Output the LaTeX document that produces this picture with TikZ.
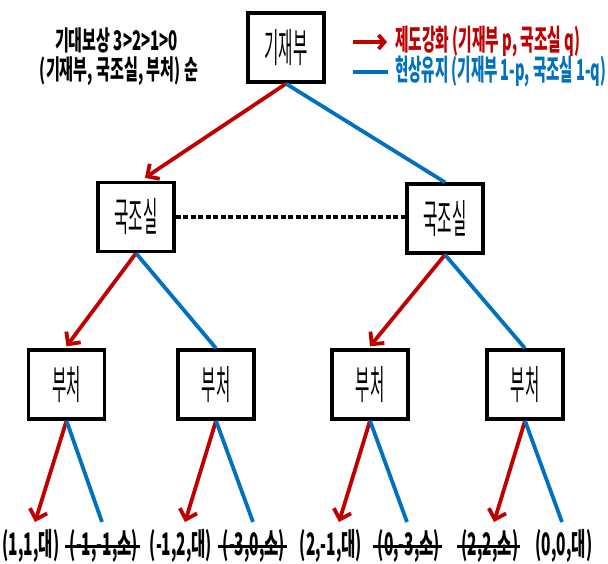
\documentclass[tikz,border=0pt]{standalone}
\usepackage{fontspec}
\usepackage{graphicx}
\usetikzlibrary{arrows.meta,calc}
\newfontfamily\kr{Noto Sans CJK KR}
\definecolor{cred}{RGB}{192,0,0}
\definecolor{cblue}{RGB}{0,112,192}
\tikzset{
 bx/.style={draw=black, line width=3.4pt, minimum width=76pt, minimum height=69pt, inner sep=0pt, font=\kr\fontsize{40}{40}\selectfont},
 redarr/.style={draw=cred, line width=3.8pt, -{Straight Barb[length=9pt,width=18pt]}},
 blueln/.style={draw=cblue, line width=3.8pt},
 legarr/.style={draw=cred, line width=3.8pt, -{Straight Barb[length=6pt,width=14pt]}},
 leaf/.style={inner sep=0pt, font=\kr\bfseries\fontsize{31}{31}\selectfont},
 strike/.style={leaf, append after command={([xshift=-5pt]\tikzlastnode.west) edge[line width=3pt] ([xshift=2pt]\tikzlastnode.east)}},
 ttl/.style={inner sep=0pt, font=\kr\bfseries\fontsize{29}{29}\selectfont},
 hdr/.style={inner sep=0pt, anchor=base, font=\kr\bfseries\fontsize{27}{27}\selectfont},
}
\newcommand\nx[1]{\scalebox{0.39}[1]{#1}}
\newcommand\lx[1]{\scalebox{0.5}[1]{#1}}
\begin{document}
\begin{tikzpicture}[x=1pt,y=-1pt]
\useasboundingbox (0,0) rectangle (608,563);
% title texts
\node[hdr] (t1) at (116.5,50) {\resizebox{123pt}{\height}{기대보상 3>2>1>0}};
\node[hdr] (t2) at (119,79) {\resizebox{158pt}{\height}{(기재부, 국조실, 부처) 순}};
% legend
\coordinate (ra) at (353,42); \coordinate (rb) at (387,42);
\coordinate (ba) at (353,72); \coordinate (bb) at (388,72);
\draw[legarr] (ra) -- (rb);
\draw[blueln] (ba) -- (bb);
\node[ttl, text=cred, anchor=west] (lg1) at (395,42) {\resizebox{185pt}{\height}{제도강화 (기재부 p, 국조실 q)}};
\node[ttl, text=cblue, anchor=west] (lg2) at (395,72) {\resizebox{211pt}{\height}{현상유지 (기재부 1-p, 국조실 1-q)}};
% boxes
\node[bx] (gjb) at (286,47.5) {\nx{기재부}};
\node[bx] (gs1) at (136,217) {\nx{국조실}};
\node[bx] (gs2) at (445,218.5) {\nx{국조실}};
\node[bx] (b1) at (66.5,384.5) {\nx{부처}};
\node[bx] (b2) at (216,384.5) {\nx{부처}};
\node[bx] (b3) at (370,384.5) {\nx{부처}};
\node[bx] (b4) at (525,384.5) {\nx{부처}};
% dashed info set
\draw[line width=3.6pt, dash pattern=on 5pt off 2.5pt] (gs1.east) -- (gs1.east -| gs2.west);
% level 1
\draw[redarr] (gjb.south) -- ([xshift=9pt,yshift=3pt]gs1.north);
\draw[blueln] (gjb.south) -- (gs2.north);
% level 2
\draw[redarr] (gs1.south) -- ([yshift=2pt]b1.north);
\draw[blueln] (gs1.south) -- (b2.north);
\draw[redarr] (gs2.south) -- ([yshift=2pt]b3.north);
\draw[blueln] (gs2.south) -- (b4.north);
% leaves
\node[leaf] (l1) at (31,546) {\lx{(1,1,대)}};
\node[strike] (l2) at (104,546) {\lx{(-1,-1,소)}};
\node[leaf] (l3) at (181,546) {\lx{(-1,2,대)}};
\node[strike] (l4) at (254,546) {\lx{(-3,0,소)}};
\node[leaf] (l5) at (331,546) {\lx{(2,-1,대)}};
\node[strike] (l6) at (409,546) {\lx{(0,-3,소)}};
\node[strike] (l7) at (490,546) {\lx{(2,2,소)}};
\node[leaf] (l8) at (564,546) {\lx{(0,0,대)}};
\coordinate (e1) at (35,522); \coordinate (f1) at (102,522);
\coordinate (e2) at (185,522); \coordinate (f2) at (253,522);
\coordinate (e3) at (339,522); \coordinate (f3) at (407,522);
\coordinate (e4) at (494,522); \coordinate (f4) at (562,522);
\draw[redarr] (b1.south) -- (e1); \draw[blueln] (b1.south) -- (f1);
\draw[redarr] (b2.south) -- (e2); \draw[blueln] (b2.south) -- (f2);
\draw[redarr] (b3.south) -- (e3); \draw[blueln] (b3.south) -- (f3);
\draw[redarr] (b4.south) -- (e4); \draw[blueln] (b4.south) -- (f4);
\end{tikzpicture}
\end{document}
